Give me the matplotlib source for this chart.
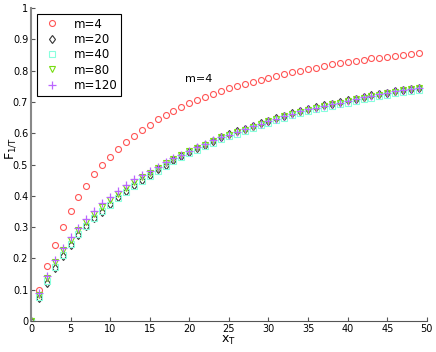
import numpy as np
import matplotlib
matplotlib.use('Agg')
import matplotlib.pyplot as plt

x = list(range(50))

m4 = [0, 0.099, 0.177, 0.244, 0.300, 0.351, 0.395, 0.433, 0.470, 0.498,
      0.524, 0.549, 0.572, 0.591, 0.610, 0.626, 0.645, 0.658, 0.671, 0.684,
      0.696, 0.706, 0.716, 0.725, 0.735, 0.744, 0.751, 0.758, 0.765, 0.771,
      0.777, 0.783, 0.789, 0.795, 0.800, 0.805, 0.810, 0.815, 0.820, 0.823,
      0.827, 0.831, 0.835, 0.839, 0.842, 0.845, 0.848, 0.850, 0.853, 0.856]

m20 = [0, 0.072, 0.122, 0.168, 0.209, 0.243, 0.275, 0.304, 0.328, 0.349,
       0.373, 0.395, 0.414, 0.435, 0.452, 0.468, 0.485, 0.500, 0.514, 0.527,
       0.541, 0.553, 0.564, 0.576, 0.588, 0.597, 0.606, 0.614, 0.623, 0.632,
       0.640, 0.648, 0.656, 0.664, 0.671, 0.677, 0.683, 0.689, 0.694, 0.699,
       0.705, 0.711, 0.716, 0.721, 0.725, 0.730, 0.735, 0.739, 0.743, 0.746]

m40 = [0, 0.076, 0.127, 0.172, 0.212, 0.246, 0.277, 0.305, 0.329, 0.350,
       0.372, 0.393, 0.412, 0.432, 0.449, 0.465, 0.481, 0.496, 0.510, 0.523,
       0.536, 0.548, 0.559, 0.570, 0.581, 0.590, 0.599, 0.607, 0.616, 0.625,
       0.633, 0.641, 0.649, 0.657, 0.664, 0.670, 0.676, 0.682, 0.687, 0.692,
       0.698, 0.704, 0.710, 0.714, 0.718, 0.723, 0.728, 0.732, 0.736, 0.739]

m80 = [0, 0.083, 0.138, 0.189, 0.227, 0.260, 0.290, 0.318, 0.343, 0.365,
       0.386, 0.406, 0.426, 0.445, 0.460, 0.474, 0.490, 0.505, 0.518, 0.530,
       0.543, 0.554, 0.564, 0.576, 0.587, 0.595, 0.604, 0.612, 0.621, 0.630,
       0.638, 0.646, 0.654, 0.662, 0.669, 0.675, 0.681, 0.687, 0.692, 0.697,
       0.703, 0.709, 0.714, 0.719, 0.723, 0.728, 0.733, 0.737, 0.741, 0.744]

m120 = [0, 0.088, 0.144, 0.195, 0.234, 0.267, 0.297, 0.325, 0.352, 0.376,
        0.395, 0.415, 0.435, 0.453, 0.466, 0.479, 0.493, 0.507, 0.520, 0.532,
        0.544, 0.555, 0.565, 0.577, 0.588, 0.596, 0.605, 0.613, 0.622, 0.631,
        0.639, 0.647, 0.655, 0.663, 0.670, 0.676, 0.682, 0.688, 0.693, 0.698,
        0.704, 0.710, 0.715, 0.720, 0.724, 0.729, 0.734, 0.738, 0.742, 0.745]

fig = plt.figure(figsize=(4.36, 3.52), dpi=100)
ax = fig.add_axes([0.071, 0.088, 0.908, 0.889])

ms = 4.3
ax.plot(x, m4, 'o', mfc='none', mec='#ff5555', ms=ms, mew=0.8, label='m=4')
ax.plot(x, m20, 'd', mfc='none', mec='#333333', ms=ms, mew=0.8, label='m=20')
ax.plot(x, m40, 's', mfc='none', mec='#88ffdd', ms=ms - 0.5, mew=0.8, label='m=40')
ax.plot(x, m80, 'v', mfc='none', mec='#77dd11', ms=ms, mew=0.8, label='m=80')
ax.plot(x, m120, '+', color='#bb66ff', ms=ms + 1, mew=0.9, label='m=120')

ax.set_xlim(0, 50)
ax.set_ylim(0, 1)
ax.set_xticks(range(0, 51, 5))
ax.set_yticks(np.arange(0, 1.01, 0.1))
ax.set_yticklabels(['0', '0.1', '0.2', '0.3', '0.4', '0.5', '0.6', '0.7', '0.8', '0.9', '1'])
ax.tick_params(direction='in', labelsize=7, length=3, color='#555555', pad=2)
for s in ['top', 'right']:
    ax.spines[s].set_visible(False)
ax.spines['left'].set_color('#888888')
ax.spines['left'].set_linewidth(1.5)
ax.spines['bottom'].set_color('#555555')

ax.set_xlabel('$\\mathregular{x_T}$', fontsize=9, labelpad=0)
ax.set_ylabel('$\\mathregular{F_{1/T}}$', fontsize=9)
ax.yaxis.set_label_coords(-0.033, 0.55)

ax.text(19.5, 0.765, 'm=4', fontsize=8)

leg = ax.legend(loc='upper left', bbox_to_anchor=(0.0, 1.0), fontsize=8.5,
                fancybox=False, edgecolor='black', framealpha=1,
                borderpad=0.3, labelspacing=0.2, handletextpad=0.8)
leg.get_frame().set_linewidth(0.8)

plt.savefig('out.png')
